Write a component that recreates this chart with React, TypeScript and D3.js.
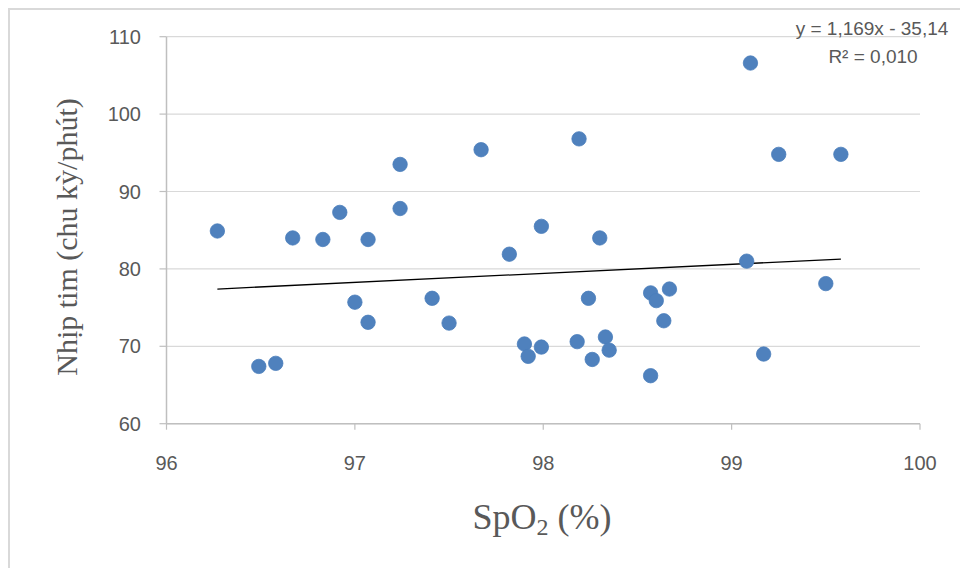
import React from "react";
import * as d3 from "d3";

const spo2: number[] = [
  96.27, 96.49, 96.58, 96.67, 96.83, 96.92, 97.0, 97.07, 97.07, 97.24,
  97.24, 97.41, 97.5, 97.67, 97.82, 97.9, 97.92, 97.99, 97.99, 98.18,
  98.19, 98.24, 98.26, 98.3, 98.33, 98.35, 98.57, 98.57, 98.6, 98.64,
  98.67, 99.08, 99.1, 99.17, 99.25, 99.5, 99.58,
];
const heartRate: number[] = [
  84.9, 67.4, 67.8, 84.0, 83.8, 87.3, 75.7, 83.8, 73.1, 93.5,
  87.8, 76.2, 73.0, 95.4, 81.9, 70.3, 68.7, 69.9, 85.5, 70.6,
  96.8, 76.2, 68.3, 84.0, 71.2, 69.5, 76.9, 66.2, 75.9, 73.3,
  77.4, 81.0, 106.6, 69.0, 94.8, 78.1, 94.8,
];
const xTicks: number[] = [96, 97, 98, 99, 100];
const yTicks: number[] = [60, 70, 80, 90, 100, 110];
const trendCoef: number[] = [1.169, -35.14];
const equationText: string[] = ["y = 1,169x - 35,14", "R² = 0,010"];

const W = 960;
const H = 568;
const left = 166.5;
const right = 920;
const top = 36.7;
const bottom = 423.7;

export default function App() {
  const x = d3.scaleLinear().domain([96, 100]).range([left, right]);
  const y = d3.scaleLinear().domain([60, 110]).range([bottom, top]);
  const xMin = d3.min(spo2) as number;
  const xMax = d3.max(spo2) as number;
  const trend = d3
    .line<number>()
    .x((d) => x(d))
    .y((d) => y(trendCoef[0] * d + trendCoef[1]));
  const tickFont = "'Liberation Sans', Arial, sans-serif";
  const gray = "#595959";
  return (
    <svg
      width={W}
      height={H}
      style={{ position: "absolute", left: 0, top: 0, background: "#fff" }}
    >
      <rect x={9} y={9} width={1000} height={700} fill="#fff" stroke="#d9d9d9" strokeWidth={2} />
      {yTicks.map((t) => (
        <line key={"g" + t} x1={left} x2={right} y1={y(t)} y2={y(t)} stroke="#d9d9d9" strokeWidth={1.2} />
      ))}
      <line x1={left} x2={left} y1={top} y2={bottom} stroke="#bfbfbf" strokeWidth={1.5} />
      <line x1={left} x2={right} y1={bottom} y2={bottom} stroke="#bfbfbf" strokeWidth={1.5} />
      {yTicks.map((t) => (
        <line key={"yt" + t} x1={left - 7} x2={left} y1={y(t)} y2={y(t)} stroke="#bfbfbf" strokeWidth={1.2} />
      ))}
      {xTicks.map((t) => (
        <line key={"xt" + t} x1={x(t)} x2={x(t)} y1={bottom} y2={bottom + 6} stroke="#bfbfbf" strokeWidth={1.2} />
      ))}
      {yTicks.map((t) => (
        <text key={"yl" + t} x={141} y={y(t) + 7} textAnchor="end" fontFamily={tickFont} fontSize={20} fill={gray}>
          {t}
        </text>
      ))}
      {xTicks.map((t) => (
        <text key={"xl" + t} x={x(t)} y={470} textAnchor="middle" fontFamily={tickFont} fontSize={20} fill={gray}>
          {t}
        </text>
      ))}
      <path d={trend([xMin, xMax]) || ""} stroke="#000" strokeWidth={1.3} fill="none" />
      {spo2.map((v, i) => (
        <circle key={"p" + i} cx={x(v)} cy={y(heartRate[i])} r={7.2} fill="#4f81bd" stroke="#4a7ebb" strokeWidth={0.8} />
      ))}
      <text x={872} y={35} textAnchor="middle" fontFamily={tickFont} fontSize={19} fill={gray}>
        {equationText[0]}
      </text>
      <text x={873} y={63} textAnchor="middle" fontFamily={tickFont} fontSize={19} fill={gray}>
        {equationText[1]}
      </text>
      <text
        transform="translate(77,237) rotate(-90)"
        textAnchor="middle"
        fontFamily="'Liberation Serif', 'Times New Roman', serif"
        fontSize={30}
        fill={gray}
      >
        Nhịp tim (chu kỳ/phút)
      </text>
      <text
        x={542}
        y={529}
        textAnchor="middle"
        fontFamily="'Liberation Serif', 'Times New Roman', serif"
        fontSize={36}
        fill={gray}
      >
        SpO<tspan fontSize={24} dy={6}>2</tspan>
        <tspan dy={-6}> (%)</tspan>
      </text>
    </svg>
  );
}
